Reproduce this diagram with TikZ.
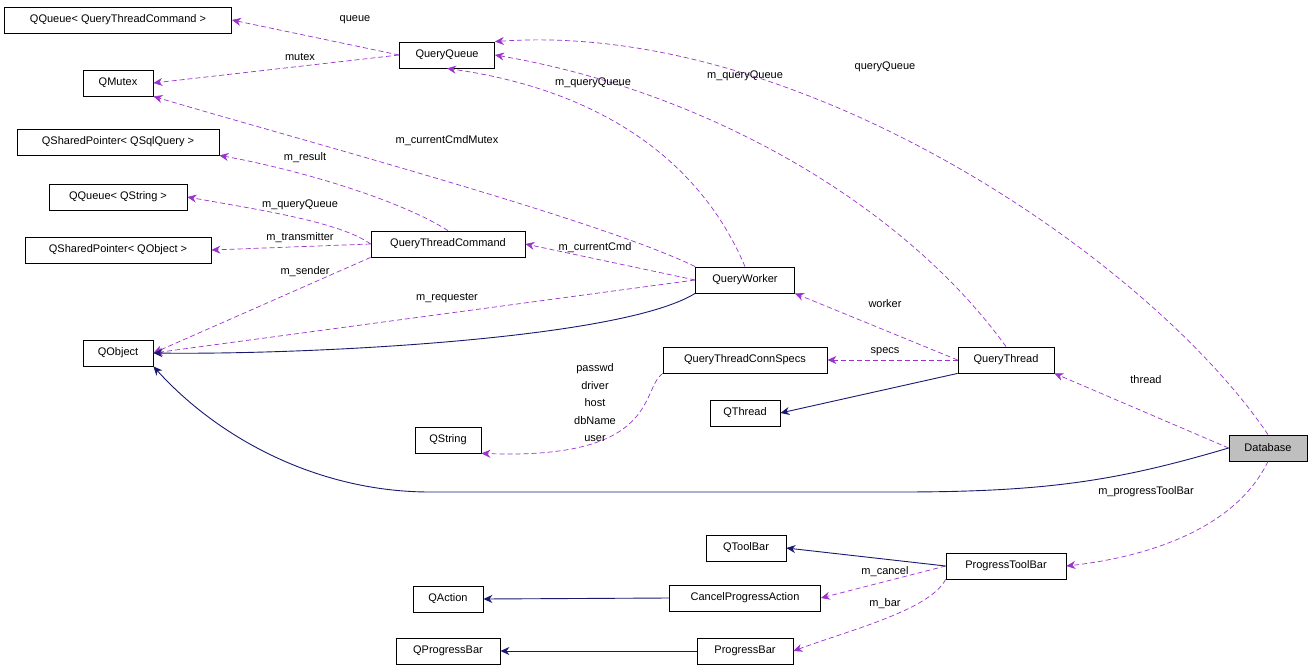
\documentclass[tikz,border=0pt]{standalone}
\usepackage{fontspec}
\setmainfont{Liberation Sans}
\usetikzlibrary{arrows.meta}
\definecolor{member}{HTML}{9A32CD}
\definecolor{base}{HTML}{191970}
\tikzset{
  cls/.style={draw=black,fill=white,inner sep=0pt,minimum height=26pt,font=\fontsize{11}{12}\selectfont,line width=0.8pt},
  use/.style={draw=member,dashed,dash pattern=on 5pt off 3pt,-{Stealth[length=9pt,width=8pt]},line width=0.7pt},
  isa/.style={draw=base,-{Stealth[length=9pt,width=8pt]},line width=0.9pt},
  lbl/.style={font=\fontsize{11}{12}\selectfont,inner sep=0pt,align=center}
}
\begin{document}
\begin{tikzpicture}[x=1pt,y=-1pt]
\useasboundingbox (0,0) rectangle (1312,672);
% classes
\node[cls,minimum width=227pt] (qqcmd) at (118,20) {QQueue< QueryThreadCommand >};
\node[cls,minimum width=95pt] (qqueue) at (447,55) {QueryQueue};
\node[cls,minimum width=70pt] (mutex) at (118,83) {QMutex};
\node[cls,minimum width=202pt] (spsql) at (118,142) {QSharedPointer< QSqlQuery >};
\node[cls,minimum width=138pt] (qqstr) at (118,197) {QQueue< QString >};
\node[cls,minimum width=186pt] (spobj) at (118,250) {QSharedPointer< QObject >};
\node[cls,minimum width=154pt] (qtc) at (448,244) {QueryThreadCommand};
\node[cls,minimum width=99pt] (worker) at (745,280) {QueryWorker};
\node[cls,minimum width=70pt] (qobject) at (118,353) {QObject};
\node[cls,minimum width=164pt] (specs) at (745,360) {QueryThreadConnSpecs};
\node[cls,minimum width=96pt] (thread) at (1006,360) {QueryThread};
\node[cls,minimum width=70pt] (qthread) at (745,413) {QThread};
\node[cls,minimum width=66pt] (qstring) at (448,440) {QString};
\node[cls,minimum width=78pt,fill=black!25] (db) at (1268,448) {Database};
\node[cls,minimum width=80pt] (toolbar) at (746,548) {QToolBar};
\node[cls,minimum width=120pt] (ptb) at (1006,566) {ProgressToolBar};
\node[cls,minimum width=70pt] (qaction) at (448,599) {QAction};
\node[cls,minimum width=151pt] (cancel) at (745,598) {CancelProgressAction};
\node[cls,minimum width=104pt] (qpbar) at (448,651) {QProgressBar};
\node[cls,minimum width=96pt] (pbar) at (745,651) {ProgressBar};

% members
\draw[use] (qqueue.west) -- (qqcmd.east);
\draw[use] (qqueue.west) -- (mutex.east);
\draw[use] (qtc.north) .. controls (400,200) and (300,170) .. (spsql.south east);
\draw[use] (qtc.west) .. controls (340,222) and (260,210) .. (qqstr.east);
\draw[use] (qtc.west) -- (spobj.east);
\draw[use] (qtc.south west) -- (qobject.east);
\draw[use] (worker.west) -- (qtc.east);
\draw[use] (worker.west) -- (qobject.east);
\draw[use] (worker.north west) .. controls (600,220) and (300,140) .. (mutex.south east);
\draw[use] (worker.north) .. controls (700,160) and (600,90) .. (qqueue.south);
\draw[use] (thread.north) .. controls (900,200) and (700,90) .. (qqueue.east);
\draw[use] (thread.west) -- (worker.south east);
\draw[use] (thread.west) -- (specs.east);
\draw[use] (specs.south west) .. controls (640,390) and (660,460) .. (qstring.south east);
\draw[use] (db.north) .. controls (1150,260) and (800,20) .. (qqueue.north east);
\draw[use] (db.west) -- (thread.south east);
\draw[use] (db.south) .. controls (1230,540) and (1120,560) .. (ptb.east);
\draw[use] (ptb.west) -- (cancel.east);
\draw[use] (ptb.south west) .. controls (930,610) and (850,630) .. (pbar.east);

% inheritance
\draw[isa] (worker.south west) .. controls (620,340) and (300,355) .. (qobject.east);
\draw[isa] (thread.south west) -- (qthread.east);
\draw[isa] (db.west) .. controls (1120,480) and (1050,492) .. (900,492) -- (430,492) .. controls (320,492) and (220,440) .. (qobject.south east);
\draw[isa] (ptb.west) -- (toolbar.east);
\draw[isa] (cancel.west) -- (qaction.east);
\draw[isa] (pbar.west) -- (qpbar.east);

% labels
\node[lbl] (lqueue) at (355,20) {queue};
\node[lbl] (lmutex) at (300,57) {mutex};
\node[lbl] (lresult) at (305,158) {m\_result};
\node[lbl] (lqq1) at (300,205) {m\_queryQueue};
\node[lbl] (ltrans) at (300,238) {m\_transmitter};
\node[lbl] (lsender) at (305,272) {m\_sender};
\node[lbl] (lcmd) at (595,248) {m\_currentCmd};
\node[lbl] (lreq) at (447,298) {m\_requester};
\node[lbl] (lcmdmx) at (447,141) {m\_currentCmdMutex};
\node[lbl] (lqq2) at (593,83) {m\_queryQueue};
\node[lbl] (lqq3) at (745,76) {m\_queryQueue};
\node[lbl] (lworker) at (885,304) {worker};
\node[lbl] (lspecs) at (885,352) {specs};
\node[lbl,font=\fontsize{11}{17.5}\selectfont] (lconn) at (595,403) {passwd\\driver\\host\\dbName\\user};
\node[lbl] (lqq4) at (885,67) {queryQueue};
\node[lbl] (lthread) at (1146,380) {thread};
\node[lbl] (lptb) at (1146,492) {m\_progressToolBar};
\node[lbl] (lcancel) at (885,572) {m\_cancel};
\node[lbl] (lbar) at (885,604) {m\_bar};
\end{tikzpicture}
\end{document}
